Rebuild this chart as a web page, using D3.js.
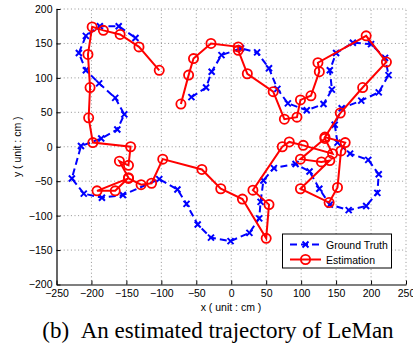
<!DOCTYPE html>
<html>
<head>
<meta charset="utf-8">
<script src="https://cdn.jsdelivr.net/npm/d3@7"></script>
<style>
	body { margin: 0; background: #fff; }
	svg text { font-family: "Liberation Sans", Arial, sans-serif; }
</style>
</head>
<body>
<div class="trajectory"></div>
<script>
var truthX = [-57, -36, -28, -14, 14, 37, 54, 66, 81, 108, 132, 144, 141, 150, 174, 200, 220, 225, 211, 186, 158, 148, 152, 170, 196, 211, 209, 193, 168, 141, 126, 112, 92, 61, 46, 42, 40, 26, -1, -29, -48, -64, -77, -103, -155, -185, -211, -228, -215, -186, -163, -153, -166, -189, -208, -218, -208, -188, -161, -137];
var truthY = [72, 86, 109, 133, 143, 137, 114, 84, 63, 53, 62, 83, 111, 136, 151, 149, 129, 104, 79, 67, 56, 32, 6, -10, -19, -40, -67, -86, -92, -84, -61, -36, -25, -31, -49, -80, -104, -125, -137, -132, -113, -83, -62, -47, -70, -74, -68, -46, 1, 12, 25, 47, 71, 92, 111, 136, 161, 175, 175, 158];

var estX = [-72, -61, -54, -29, 10, 10, 23, 60, 76, 94, 99, 114, 126, 124, 193, 222, 188, 156, 134, 163, 157, 152, 140, 99, 141, 129, 99, 134, 145, 103, 83, 73, 31, 54, 50, 16, -15, -42, -98, -114, -129, -147, -192, -166, -147, -160, -147, -144, -198, -204, -202, -205, -199, -183, -159, -132, -103];
var estY = [62, 104, 128, 150, 145, 140, 106, 80, 40, 43, 68, 74, 109, 122, 161, 123, 86, 49, 14, 6, -6, -59, -81, -61, -20, -22, -18, 12, -10, 2, 7, 0, -63, -84, -133, -76, -61, -33, -18, -53, -55, -46, -64, -64, -45, -21, -27, 0, 6, 42, 86, 134, 174, 169, 163, 145, 111];

var xTicks = [-250, -200, -150, -100, -50, 0, 50, 100, 150, 200, 250];
var yTicks = [-200, -150, -100, -50, 0, 50, 100, 150, 200];
var legendLabels = ["Ground Truth", "Estimation"];

var width = 413;
var height = 348;

var truth = truthX.map(function(x, i) { return [x, truthY[i]]; });
var est = estX.map(function(x, i) { return [x, estY[i]]; });

var svg = d3.select(".trajectory")
	.append("svg")
	.attr("width", width)
	.attr("height", height);

var x = d3.scaleLinear().domain([-250, 250]).range([56.5, 406]);
var y = d3.scaleLinear().domain([-200, 200]).range([284.5, 9]);

// dotted grid
svg.append("g")
	.selectAll("line")
	.data(xTicks.slice(1))
	.enter()
	.append("line")
	.attr("x1", function(d) { return x(d); })
	.attr("x2", function(d) { return x(d); })
	.attr("y1", y(-200))
	.attr("y2", y(200))
	.attr("stroke", "#777")
	.attr("stroke-width", 0.8)
	.attr("stroke-dasharray", "1,2.6");

svg.append("g")
	.selectAll("line")
	.data(yTicks.slice(1))
	.enter()
	.append("line")
	.attr("y1", function(d) { return y(d); })
	.attr("y2", function(d) { return y(d); })
	.attr("x1", x(-250))
	.attr("x2", x(250))
	.attr("stroke", "#777")
	.attr("stroke-width", 0.8)
	.attr("stroke-dasharray", "1,2.6");

// axes
var fmt = function(d) { return d < 0 ? "\u2212" + Math.abs(d) : d; };

var xAxis = svg.append("g")
	.attr("transform", "translate(0," + y(-200) + ")")
	.call(d3.axisBottom(x).tickValues(xTicks).tickFormat(fmt).tickSizeInner(-4).tickSizeOuter(0).tickPadding(5));

var yAxis = svg.append("g")
	.attr("transform", "translate(" + x(-250) + ",0)")
	.call(d3.axisLeft(y).tickValues(yTicks).tickFormat(fmt).tickSizeInner(-4).tickSizeOuter(0).tickPadding(4));

[xAxis, yAxis].forEach(function(a) {
	a.select(".domain").attr("stroke", "#000").attr("stroke-width", 1.2);
	a.selectAll(".tick line").attr("stroke", "#000");
	a.selectAll("text").attr("fill", "#000").style("font-size", "10.5px");
});

svg.append("text")
	.attr("x", 231)
	.attr("y", 311)
	.attr("text-anchor", "middle")
	.style("font-size", "10.5px")
	.text("x ( unit : cm )");

svg.append("text")
	.attr("transform", "translate(21," + y(0) + ") rotate(-90)")
	.attr("text-anchor", "middle")
	.style("font-size", "10.5px")
	.text("y ( unit : cm )");

var line = d3.line()
	.x(function(d) { return x(d[0]); })
	.y(function(d) { return y(d[1]); });

// Ground truth
svg.append("path")
	.datum(truth)
	.attr("d", line)
	.attr("fill", "none")
	.attr("stroke", "#0000ff")
	.attr("stroke-width", 2)
	.attr("stroke-dasharray", "7,4");

function cross(g, cx, cy) {
	g.append("path")
		.attr("d", "M" + (cx - 3) + "," + (cy - 3) + "L" + (cx + 3) + "," + (cy + 3) +
			"M" + (cx - 3) + "," + (cy + 3) + "L" + (cx + 3) + "," + (cy - 3))
		.attr("stroke", "#0000ff")
		.attr("stroke-width", 2);
}

var crosses = svg.append("g");
truth.forEach(function(d) { cross(crosses, x(d[0]), y(d[1])); });

// Estimation
svg.append("path")
	.datum(est)
	.attr("d", line)
	.attr("fill", "none")
	.attr("stroke", "#ff0000")
	.attr("stroke-width", 2);

svg.append("g")
	.selectAll("circle")
	.data(est)
	.enter()
	.append("circle")
	.attr("cx", function(d) { return x(d[0]); })
	.attr("cy", function(d) { return y(d[1]); })
	.attr("r", 4.6)
	.attr("fill", "none")
	.attr("stroke", "#ff0000")
	.attr("stroke-width", 1.8);

// Legend
var legend = svg.append("g");
legend.append("rect")
	.attr("x", 282.5)
	.attr("y", 234)
	.attr("width", 109)
	.attr("height", 34)
	.attr("fill", "#fff")
	.attr("stroke", "#000")
	.attr("stroke-width", 1);

legendLabels.forEach(function(label, i) {
	var ly = 244.5 + i * 15;
	legend.append("line")
		.attr("x1", 290).attr("x2", 321)
		.attr("y1", ly).attr("y2", ly)
		.attr("stroke", i === 0 ? "#0000ff" : "#ff0000")
		.attr("stroke-width", 2)
		.attr("stroke-dasharray", i === 0 ? "7,4" : null);
	if (i === 0) {
		cross(legend, 305.5, ly);
	} else {
		legend.append("circle")
			.attr("cx", 305.5).attr("cy", ly).attr("r", 4.6)
			.attr("fill", "none").attr("stroke", "#ff0000").attr("stroke-width", 1.8);
	}
	legend.append("text")
		.attr("x", 326)
		.attr("y", ly + 4)
		.style("font-size", "10.5px")
		.text(label);
});

// caption
svg.append("text")
	.attr("x", 218)
	.attr("y", 338)
	.attr("text-anchor", "middle")
	.style("font-family", "'Liberation Serif', 'Times New Roman', serif")
	.style("font-size", "23px")
	.text("(b)\u00a0\u00a0An estimated trajectory of LeMan");
</script>
</body>
</html>
